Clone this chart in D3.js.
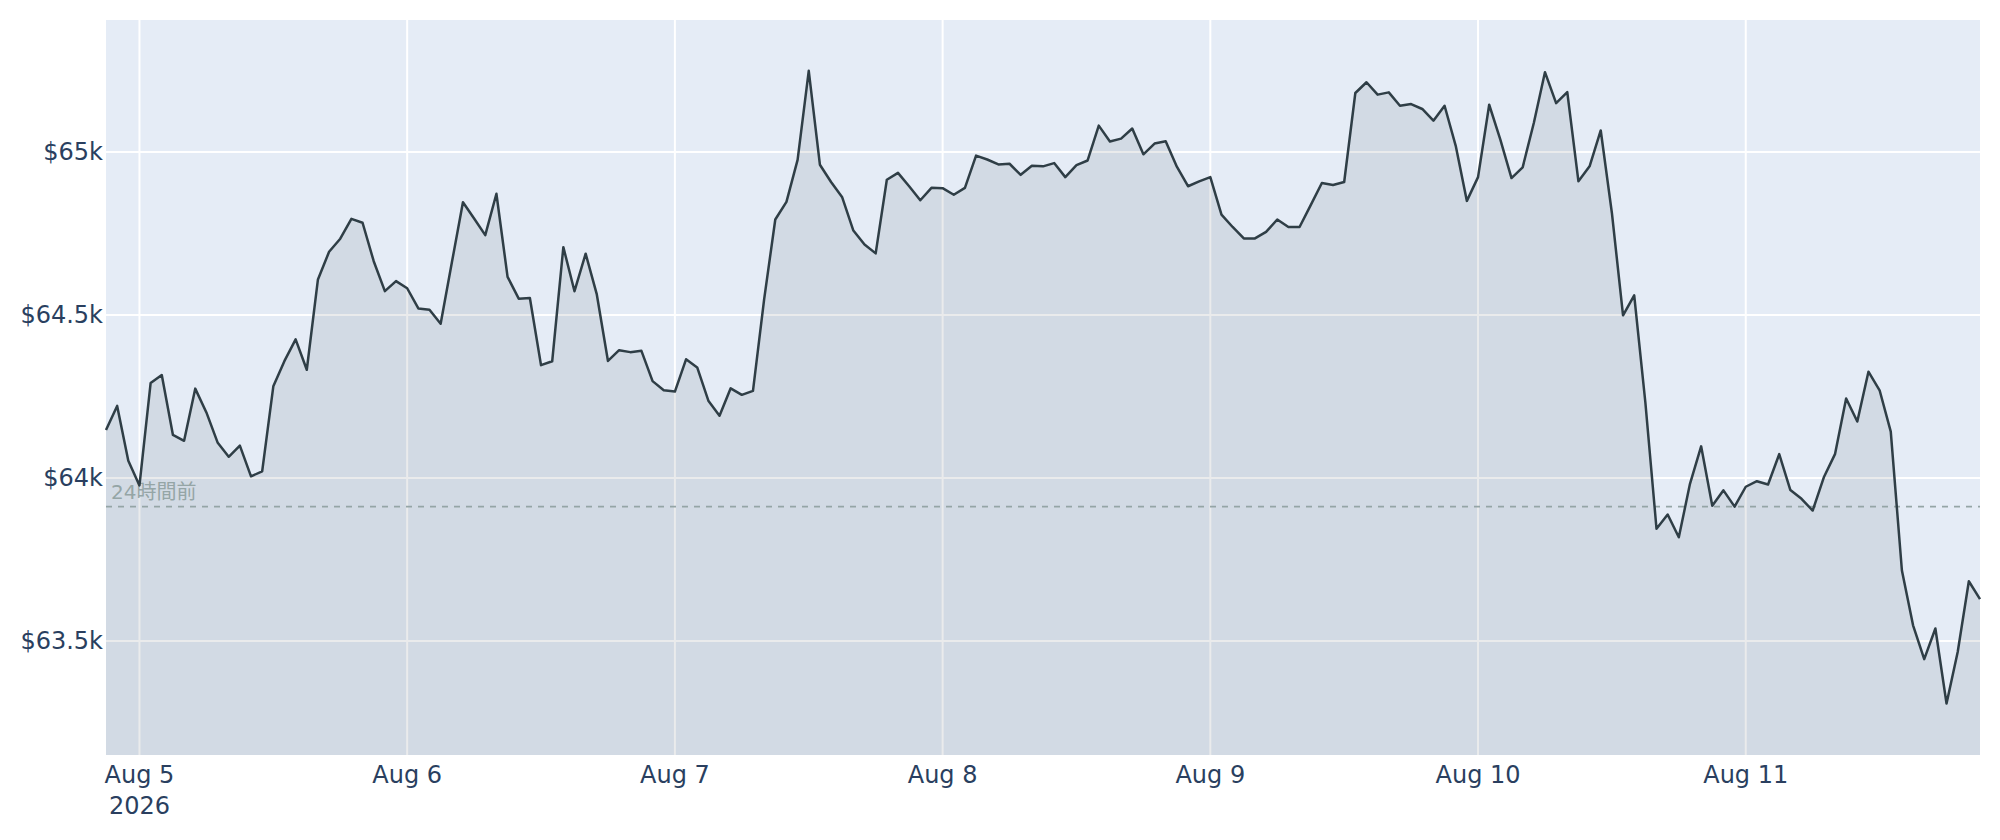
<!DOCTYPE html>
<html>
<head>
<meta charset="utf-8">
<script src="https://cdn.jsdelivr.net/npm/d3@7"></script>
<style>
  body { margin: 0; background: #fff; }
  svg { display: block; }
  text { font-family: "DejaVu Sans", Verdana, "Noto Sans CJK JP", sans-serif; }
</style>
</head>
<body>
<svg id="chart"></svg>
<script>
// hourly closes, Aug 4 21:00 -> Aug 11 21:00 (UTC)
let startTime = Date.UTC(2026, 7, 4, 21)
let prices = [
  64147, 64221, 64053, 63977, 64291, 64316, 64132, 64114, 64274, 64201,
  64109, 64065, 64099, 64005, 64020, 64281, 64359, 64425, 64332, 64609,
  64694, 64734, 64795, 64783, 64665, 64573, 64604, 64582, 64520, 64516,
  64473, 64660, 64846, 64796, 64745, 64872, 64617, 64550, 64552, 64346,
  64358, 64708, 64573, 64688, 64563, 64359, 64392, 64386, 64390, 64297,
  64269, 64265, 64364, 64339, 64237, 64191, 64275, 64255, 64267, 64548,
  64793, 64847, 64976, 65249, 64961, 64908, 64861, 64759, 64716, 64689,
  64915, 64936, 64895, 64852, 64890, 64889, 64869, 64890, 64989, 64977,
  64962, 64964, 64930, 64958, 64956, 64966, 64923, 64960, 64974, 65081,
  65032, 65041, 65072, 64993, 65026, 65033, 64955, 64895, 64910, 64923,
  64808, 64770, 64735, 64735, 64755, 64793, 64770, 64770, 64837, 64905,
  64899, 64908, 65181, 65214, 65176, 65183, 65142, 65147, 65132, 65096,
  65142, 65019, 64850, 64923, 65145, 65038, 64920, 64953, 65089, 65245,
  65150, 65184, 64910, 64956, 65066, 64813, 64499, 64560, 64232, 63844,
  63888, 63818, 63982, 64097, 63915, 63962, 63912, 63973, 63990, 63980,
  64073, 63963, 63936, 63900, 64002, 64073, 64244, 64173, 64326, 64269,
  64142, 63716, 63548, 63444, 63538, 63308, 63466, 63683, 63628
]
let yTicks = [63500, 64000, 64500, 65000]
let refPrice = 63912
let refLabel = '24時間前'
let yDomain = [63150, 65405]

let data = prices.map((p, i) => ({ t: new Date(startTime + i * 3600e3), p: p }))

let W = 2000, H = 840
let margin = { left: 106, right: 20, top: 20, bottom: 85 }
let w = W - margin.left - margin.right
let h = H - margin.top - margin.bottom

let lineColor = '#2f3e46'

let svg = d3.select('#chart')
  .attr('width', W)
  .attr('height', H)

let x = d3.scaleUtc()
  .domain(d3.extent(data, d => d.t))
  .range([0, w])

let y = d3.scaleLinear()
  .domain(yDomain)
  .range([h, 0])

let g = svg.append('g')
  .attr('transform', `translate(${margin.left},${margin.top})`)

// plot background
g.append('rect')
  .attr('width', w)
  .attr('height', h)
  .attr('fill', '#E5ECF6')

let days = x.ticks(d3.utcDay.every(1))

// grid
g.append('g')
  .selectAll('line')
  .data(days)
  .join('line')
  .attr('x1', d => x(d)).attr('x2', d => x(d))
  .attr('y1', 0).attr('y2', h)
  .attr('stroke', '#fff')
  .attr('stroke-width', 2)

g.append('g')
  .selectAll('line')
  .data(yTicks)
  .join('line')
  .attr('x1', 0).attr('x2', w)
  .attr('y1', d => y(d)).attr('y2', d => y(d))
  .attr('stroke', '#fff')
  .attr('stroke-width', 2)

// area + line
let area = d3.area()
  .x(d => x(d.t))
  .y0(h)
  .y1(d => y(d.p))

let line = d3.line()
  .x(d => x(d.t))
  .y(d => y(d.p))

g.append('path')
  .datum(data)
  .attr('d', area)
  .attr('fill', lineColor)
  .attr('fill-opacity', 0.1)

// reference line (24h ago)
g.append('line')
  .attr('x1', 0).attr('x2', w)
  .attr('y1', y(refPrice)).attr('y2', y(refPrice))
  .attr('stroke', '#95a5a6')
  .attr('stroke-width', 1.6)
  .attr('stroke-dasharray', '6,6')

g.append('text')
  .text(refLabel)
  .attr('x', 5)
  .attr('y', y(refPrice) - 8)
  .attr('font-size', 20)
  .attr('fill', '#95a5a6')

g.append('path')
  .datum(data)
  .attr('d', line)
  .attr('fill', 'none')
  .attr('stroke', lineColor)
  .attr('stroke-width', 2.5)
  .attr('stroke-linejoin', 'round')

// y axis labels
let yAxis = d3.axisLeft(y)
  .tickValues(yTicks)
  .tickSize(0)
  .tickPadding(3)
  .tickFormat(d => '$' + d / 1000 + 'k')

g.append('g')
  .call(yAxis)
  .call(s => s.select('.domain').remove())
  .selectAll('text')
  .attr('font-size', 24)
  .attr('font-family', '"DejaVu Sans", Verdana, sans-serif')
  .attr('fill', '#2a3f5f')

// x axis labels
let fmt = d3.utcFormat('%b %-d')
let xl = g.append('g')
  .selectAll('text')
  .data(days)
  .join('text')
  .attr('x', d => x(d))
  .attr('y', h + 28)
  .attr('text-anchor', 'middle')
  .attr('font-size', 24)
  .attr('fill', '#2a3f5f')

xl.append('tspan').text(d => fmt(d))
xl.filter((d, i) => i === 0)
  .append('tspan')
  .attr('x', d => x(d))
  .attr('dy', 31)
  .text(d => d.getUTCFullYear())
</script>
</body>
</html>
